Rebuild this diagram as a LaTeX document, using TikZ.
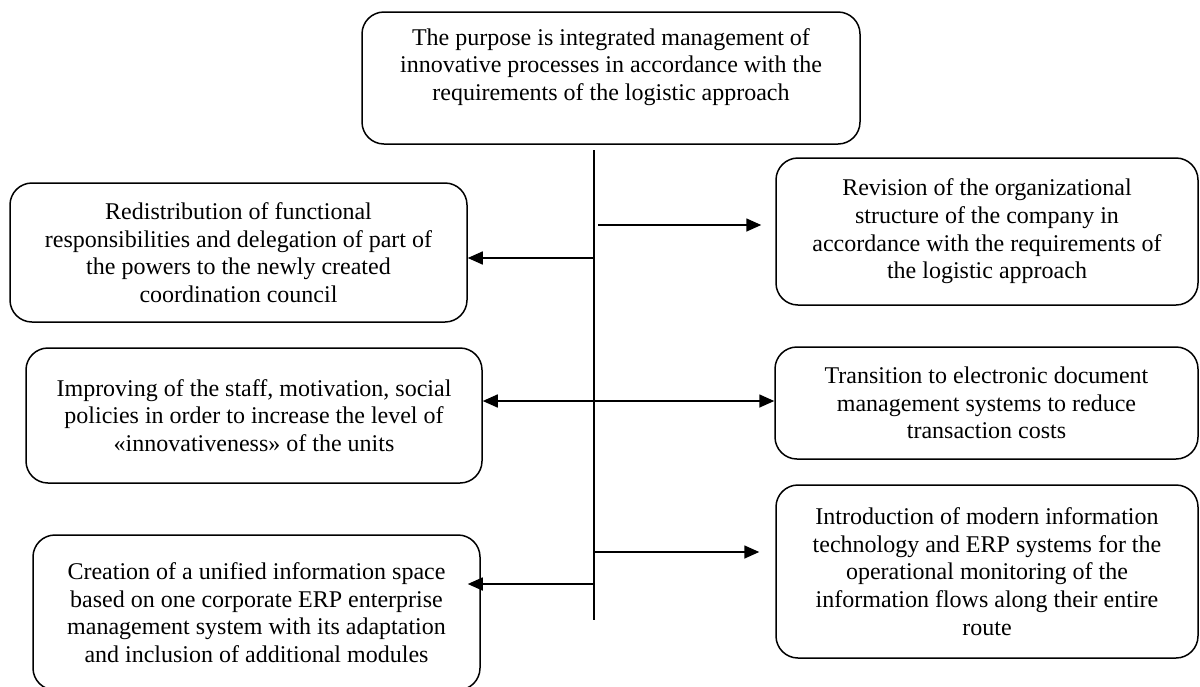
\documentclass[tikz,border=0pt]{standalone}
\usepackage{fontspec}
\setmainfont{Liberation Serif}
\usetikzlibrary{positioning, arrows.meta, calc}

\begin{document}
\begin{tikzpicture}[x=1pt, y=-1pt,
    box/.style={draw, rounded corners=22pt, line width=1.5pt, align=center, inner sep=0pt, font=\fontsize{24}{27.6}\selectfont},
    arr/.style={-{Triangle[length=15pt, width=13pt]}, line width=1.6pt}]
  \useasboundingbox (0,0) rectangle (1200,686);
  \node[box, minimum width=498pt, minimum height=132pt] (goal) at (611,78) {The purpose is integrated management of\\ innovative processes in accordance with the\\ requirements of the logistic approach\\ \mbox{}};
  \node[box, minimum width=457pt, minimum height=139pt] (redist) at (238.5,252.5) {Redistribution of functional\\ responsibilities and delegation of part of\\ the powers to the newly created\\ coordination council};
  \node[box, minimum width=422pt, minimum height=147pt] (orgrev) at (987,231.5) {Revision of the organizational\\ structure of the company in\\ accordance with the requirements of\\ the logistic approach};
  \node[box, minimum width=456pt, minimum height=135pt] (staff) at (254,415.5) {Improving of the staff, motivation, social\\ policies in order to increase the level of\\ «innovativeness» of the units};
  \node[box, minimum width=423pt, minimum height=112pt] (edm) at (986.5,403) {Transition to electronic document\\ management systems to reduce\\ transaction costs};
  \node[box, minimum width=447pt, minimum height=155pt] (unified) at (256.5,612.5) {Creation of a unified information space\\ based on one corporate ERP enterprise\\ management system with its adaptation\\ and inclusion of additional modules};
  \node[box, minimum width=422pt, minimum height=173pt] (erp) at (987,571.5) {Introduction of modern information\\ technology and ERP systems for the\\ operational monitoring of the\\ information flows along their entire\\ route};

  \coordinate (vtop) at (594,150);
  \coordinate (vbot) at (594,620);
  \draw[line width=1.6pt] (vtop) -- (vbot);

  \coordinate (j1) at (594,225);
  \coordinate (j2) at (594,258);
  \coordinate (j3) at (594,401);
  \coordinate (j4) at (594,552);
  \coordinate (j5) at (594,584);
  \draw[arr, shorten <=4pt, shorten >=14pt] (j1) -- (j1 -| orgrev.west);
  \draw[arr] (j2) -- (j2 -| redist.east);
  \draw[arr, {Triangle[length=15pt, width=13pt]}-{Triangle[length=15pt, width=13pt]}] (j3 -| staff.east) -- (j3 -| edm.west);
  \draw[arr, shorten >=16pt] (j4) -- (j4 -| erp.west);
  \draw[arr, shorten >=-13pt] (j5) -- (j5 -| unified.east);
\end{tikzpicture}
\end{document}
